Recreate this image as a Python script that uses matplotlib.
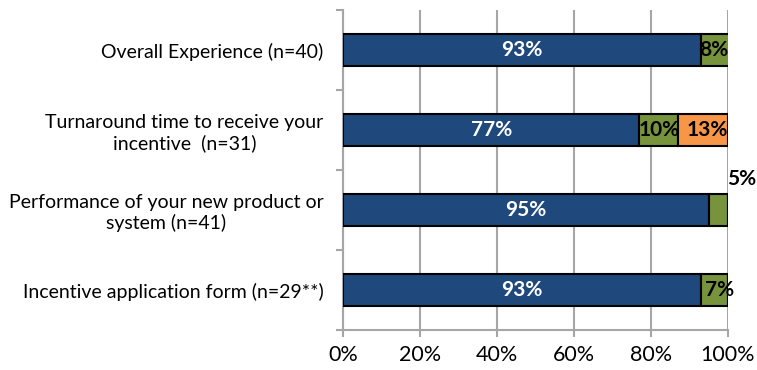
import matplotlib
matplotlib.use("Agg")
import matplotlib.pyplot as plt
import numpy as np

plt.rcParams['font.family'] = ['Lato', 'DejaVu Sans']

categories = [
    "Overall Experience (n=40)",
    "Turnaround time to receive your\nincentive  (n=31)",
    "Performance of your new product or\nsystem (n=41)",
    "Incentive application form (n=29**)",
]
very_satisfied = [93, 77, 95, 93]
somewhat_satisfied = [8, 10, 5, 7]
dissatisfied = [0, 13, 0, 0]
x_ticks = [0, 20, 40, 60, 80, 100]
x_tick_labels = ["0%", "20%", "40%", "60%", "80%", "100%"]

blue = "#1F497D"
green = "#77933C"
orange = "#F79646"
grey = "#A6A6A6"

fig = plt.figure(figsize=(7.57, 3.70), dpi=100)
ax = fig.add_axes([343 / 757, 1 - 330 / 370, 385 / 757, 320 / 370])

y = np.arange(len(categories))
h = 0.4
kw = dict(height=h, edgecolor="black", linewidth=1.5, zorder=3)
ax.barh(y, very_satisfied, color=blue, **kw)
ax.barh(y, somewhat_satisfied, left=very_satisfied, color=green, **kw)
left2 = np.array(very_satisfied) + np.array(somewhat_satisfied)
ax.barh(y, dissatisfied, left=left2, color=orange, **kw)

ax.set_xlim(0, 100)
ax.set_ylim(len(categories) - 0.5, -0.5)

lab_fs = 15
# segment labels
for i in range(len(categories)):
    v1, v2, v3 = very_satisfied[i], somewhat_satisfied[i], dissatisfied[i]
    ax.text(v1 / 2, i, f"{v1}%", ha="center", va="center", color="white",
            fontsize=lab_fs, fontweight="bold", zorder=4)
    if v2:
        if i == 2:
            # narrow segment: label sits above the bar end
            ax.text(107.2, i - 0.39, f"{v2}%", ha="right", va="center",
                    color="black", fontsize=lab_fs, fontweight="bold",
                    clip_on=False, zorder=4)
        else:
            if i == 0:
                cx = 100 - 3.6
            elif i == 3:
                cx = v1 + v2 / 2 + 1.2
            else:
                cx = v1 + v2 / 2
            ax.text(cx, i, f"{v2}%", ha="center", va="center", color="black",
                    fontsize=lab_fs, fontweight="bold", zorder=4)
    if v3:
        ax.text(v1 + v2 + v3 / 2 + 1.2, i, f"{v3}%", ha="center", va="center",
                color="black", fontsize=lab_fs, fontweight="bold", zorder=4)

# axes styling
ax.set_xticks(x_ticks)
ax.set_xticklabels(x_tick_labels, fontsize=15.5)
ax.tick_params(axis="x", direction="out", length=5, width=1.5, color=grey,
               pad=6)
ax.xaxis.grid(True, color=grey, linewidth=1.5, zorder=0)

ax.set_yticks(y)
ax.set_yticklabels(categories, fontsize=14, multialignment="center")
ax.tick_params(axis="y", which="major", length=0, pad=14)
ax.set_yticks(np.arange(len(categories) + 1) - 0.5, minor=True)
ax.tick_params(axis="y", which="minor", direction="out", length=5, width=1.5,
               color=grey)

for s in ["top", "right"]:
    ax.spines[s].set_visible(False)
for s in ["left", "bottom"]:
    ax.spines[s].set_color(grey)
    ax.spines[s].set_linewidth(1.5)

fig.savefig("out.png", dpi=100)
